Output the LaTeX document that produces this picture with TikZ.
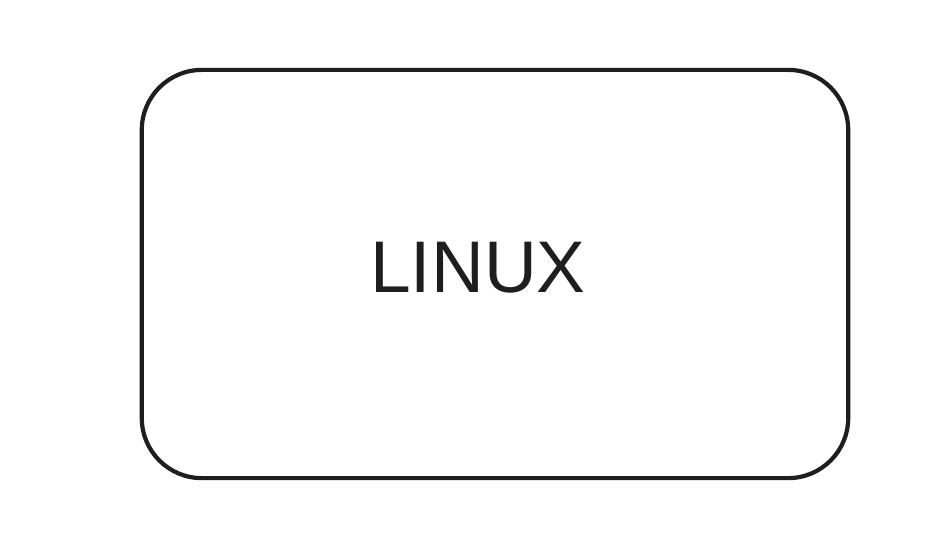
\documentclass[tikz,border=0pt]{standalone}
\usepackage{fontspec}
\setmainfont{Liberation Sans}
\definecolor{ink}{HTML}{1E1E1E}
\tikzset{
  box/.style={draw=ink, line width=1.2pt, rounded corners=0.6cm, minimum width=7.06cm, minimum height=4.08cm, inner sep=0pt},
  label/.style={text=ink, font=\fontsize{20.8}{24}\selectfont, inner sep=0pt}
}
\begin{document}
\begin{tikzpicture}[x=0.01cm, y=-0.01cm]
        \useasboundingbox (0,0) rectangle (932,548);
        \node[box] (linux box) at (495,274) {};
        \node[label] (linux) at (478,268) {LINUX};
    \end{tikzpicture}
\end{document}
